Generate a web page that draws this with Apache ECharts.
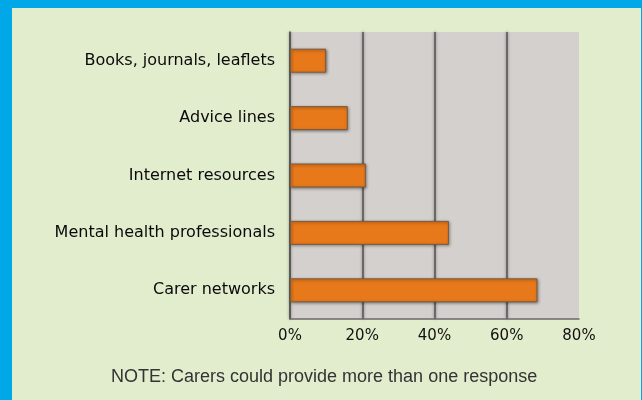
<!DOCTYPE html>
<html>
<head>
<meta charset="utf-8">
<script src="https://cdn.jsdelivr.net/npm/echarts@6/dist/echarts.min.js"></script>
<style>
html,body{margin:0;padding:0;background:#00A8E8;}
#chart{width:642px;height:400px;}
</style>
</head>
<body>
<div id="chart"></div>
<script>
const categories = ['Books, journals, leaflets','Advice lines','Internet resources','Mental health professionals','Carer networks'];
const values = [10, 16, 21, 44, 68.5];
const xTicks = [0, 20, 40, 60, 80];
const noteText = 'NOTE: Carers could provide more than one response';

const chart = echarts.init(document.getElementById('chart'), null, {renderer:'canvas'});
const FONT = 'DejaVu Sans';
chart.setOption({
  backgroundColor: '#00A8E8',
  animation: false,
  graphic: [
    {type:'rect', z:-10, shape:{x:12, y:8, width:629, height:392}, style:{fill:'#E2EDCD'}},
    {type:'text', left: 111, top: 368, style:{text: noteText, fontFamily: 'Liberation Sans', fontSize: 18, fill:'#333'}}
  ],
  grid: {left: 290, top: 32, right: 63, bottom: 81, show: true, backgroundColor: '#D4D0CD', borderWidth: 0},
  xAxis: {
    type: 'value', min: xTicks[0], max: xTicks[xTicks.length-1], interval: 20,
    axisLine: {show: true, lineStyle: {color: '#6a6a6a', width: 1.5}},
    axisTick: {show: false},
    axisLabel: {formatter: '{value}%', fontFamily: FONT, fontSize: 15, color: '#111', margin: 10},
    splitLine: {show: true, showMaxLine: false, lineStyle: {color: '#555', width: 1.5, shadowColor: 'rgba(0,0,0,0.5)', shadowBlur: 3}}
  },
  yAxis: {
    type: 'category', data: categories, inverse: true,
    axisLine: {show: true, lineStyle: {color: '#555', width: 1.5}},
    axisTick: {show: false},
    axisLabel: {fontFamily: FONT, fontSize: 16, color: '#0a0a0a', margin: 15, padding: [0,0,4,0]}
  },
  series: [{
    type: 'bar', data: values, barWidth: 24,
    itemStyle: {color: '#E8791A', borderColor: '#7a5a40', borderWidth: 1, shadowColor: 'rgba(0,0,0,0.45)', shadowBlur: 3, shadowOffsetX: 1, shadowOffsetY: 1}
  }]
});
</script>
</body>
</html>
